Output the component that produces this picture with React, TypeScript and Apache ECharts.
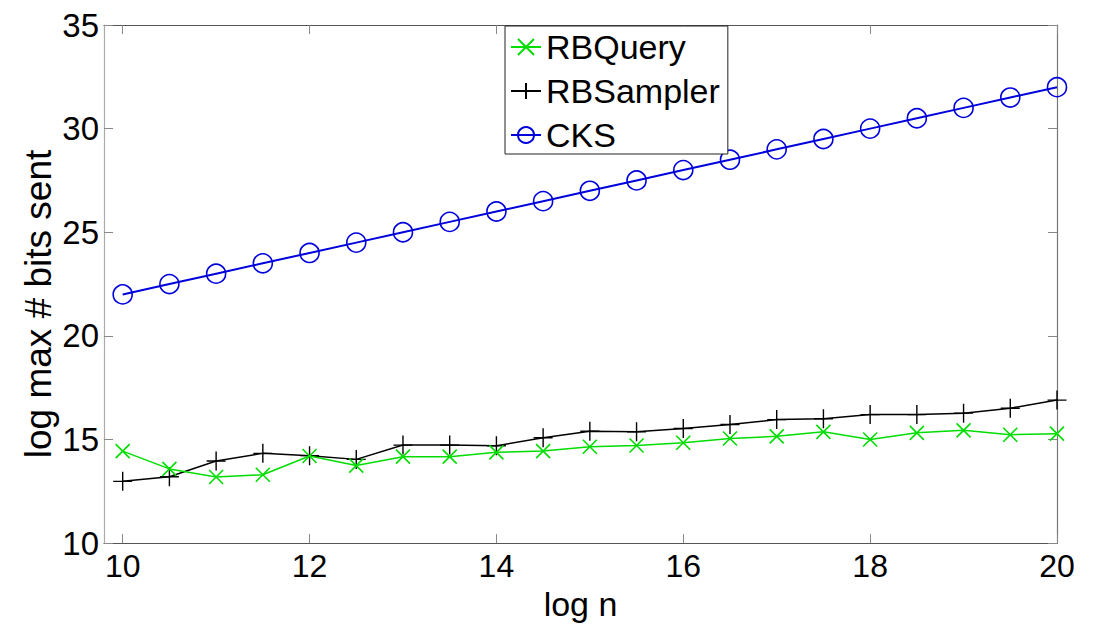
import React, { useEffect, useRef } from "react";
import * as echarts from "echarts";

const logN = [10, 10.5, 11, 11.5, 12, 12.5, 13, 13.5, 14, 14.5, 15, 15.5, 16, 16.5, 17, 17.5, 18, 18.5, 19, 19.5, 20];
const rbQuery = [14.44, 13.58, 13.19, 13.3, 14.2, 13.74, 14.17, 14.17, 14.38, 14.44, 14.65, 14.71, 14.84, 15.05, 15.15, 15.37, 15.0, 15.32, 15.44, 15.23, 15.28];
const rbSampler = [12.98, 13.2, 13.96, 14.33, 14.22, 14.04, 14.73, 14.73, 14.7, 15.08, 15.4, 15.37, 15.53, 15.72, 15.96, 16.0, 16.2, 16.2, 16.27, 16.51, 16.9];
const cks = [22, 22.5, 23, 23.5, 24, 24.5, 25, 25.5, 26, 26.5, 27, 27.5, 28, 28.5, 29, 29.5, 30, 30.5, 31, 31.5, 32];
const xTicks = [10, 12, 14, 16, 18, 20];
const yName = "log max # bits sent";

const FONT = "'Liberation Sans', Arial, sans-serif";

export default function App() {
  const ref = useRef<HTMLDivElement>(null);
  useEffect(() => {
    if (!ref.current) return;
    const chart = echarts.init(ref.current, null, { renderer: "svg" });
    const pairs = (ys: number[]) => logN.map((x, i) => [x, ys[i]]);
    const tickStyle = { show: true, inside: true, length: 9, lineStyle: { color: "#888", width: 1 } };
    chart.setOption({
      animation: false,
      backgroundColor: "#fff",
      textStyle: { fontFamily: FONT },
      grid: { left: 104, top: 25, right: 45, bottom: 77, containLabel: false },
      graphic: [
        {
          type: "text",
          x: 38,
          y: 304,
          rotation: Math.PI / 2,
          style: {
            text: yName,
            fontSize: 37,
            fontFamily: FONT,
            fill: "#000",
            align: "center",
            verticalAlign: "middle",
          },
        },
      ],
      legend: {
        orient: "vertical",
        left: 505,
        top: 26,
        backgroundColor: "#fff",
        borderColor: "#222",
        borderWidth: 1,
        borderRadius: 0,
        padding: [4, 8, 2, 5],
        itemWidth: 30,
        itemHeight: 20,
        itemGap: 10,
        textStyle: { fontSize: 34, lineHeight: 34, color: "#000", fontFamily: FONT, padding: [0, 0, 0, 0] },
        data: ["RBQuery", "RBSampler", "CKS"],
      },
      xAxis: [
        {
          type: "value",
          min: 9.8,
          max: 20,
          name: "log n",
          nameLocation: "middle",
          nameGap: 37,
          nameTextStyle: { fontSize: 34, color: "#000", fontFamily: FONT },
          axisLine: { show: true, lineStyle: { color: "#555", width: 1.2 } },
          axisTick: { ...tickStyle, customValues: xTicks },
          axisLabel: { fontSize: 32, color: "#000", margin: 7, fontFamily: FONT, customValues: xTicks },
          splitLine: { show: false },
        },
        {
          type: "value",
          position: "top",
          min: 9.8,
          max: 20,
          axisLine: { show: true, lineStyle: { color: "#555", width: 1.2 } },
          axisTick: { ...tickStyle, customValues: xTicks },
          axisLabel: { show: false },
          splitLine: { show: false },
        },
      ],
      yAxis: [
        {
          type: "value",
          min: 10,
          max: 35,
          interval: 5,
          axisLine: { show: true, lineStyle: { color: "#aaa", width: 1.2 } },
          axisTick: { ...tickStyle },
          axisLabel: { fontSize: 33, color: "#000", margin: 5, fontFamily: FONT },
          splitLine: { show: false },
        },
        {
          type: "value",
          position: "right",
          min: 10,
          max: 35,
          interval: 5,
          axisLine: { show: true, lineStyle: { color: "#777", width: 1.2 } },
          axisTick: { ...tickStyle },
          axisLabel: { show: false },
          splitLine: { show: false },
        },
      ],
      series: [
        {
          name: "RBQuery",
          type: "line",
          data: pairs(rbQuery),
          symbol: "path://M0,0L10,10M0,10L10,0",
          symbolSize: 14,
          lineStyle: { color: "#00dd00", width: 1.5 },
          itemStyle: { color: "rgba(0,0,0,0)", borderColor: "#00dd00", borderWidth: 1.6 },
          z: 3,
        },
        {
          name: "RBSampler",
          type: "line",
          data: pairs(rbSampler),
          symbol: "path://M5,0L5,10M0,5L10,5",
          symbolSize: 19,
          lineStyle: { color: "#000", width: 1.5 },
          itemStyle: { color: "rgba(0,0,0,0)", borderColor: "#000", borderWidth: 1.4 },
          z: 2,
        },
        {
          name: "CKS",
          type: "line",
          data: pairs(cks),
          symbol: "circle",
          symbolSize: 19,
          lineStyle: { color: "#0000dd", width: 2 },
          itemStyle: { color: "rgba(0,0,0,0)", borderColor: "#0000dd", borderWidth: 1.6 },
          z: 2,
        },
      ],
    });
    return () => chart.dispose();
  }, []);
  return (
    <div
      ref={ref}
      style={{ position: "fixed", left: 0, top: 0, width: 1102, height: 626, background: "#fff" }}
    />
  );
}
